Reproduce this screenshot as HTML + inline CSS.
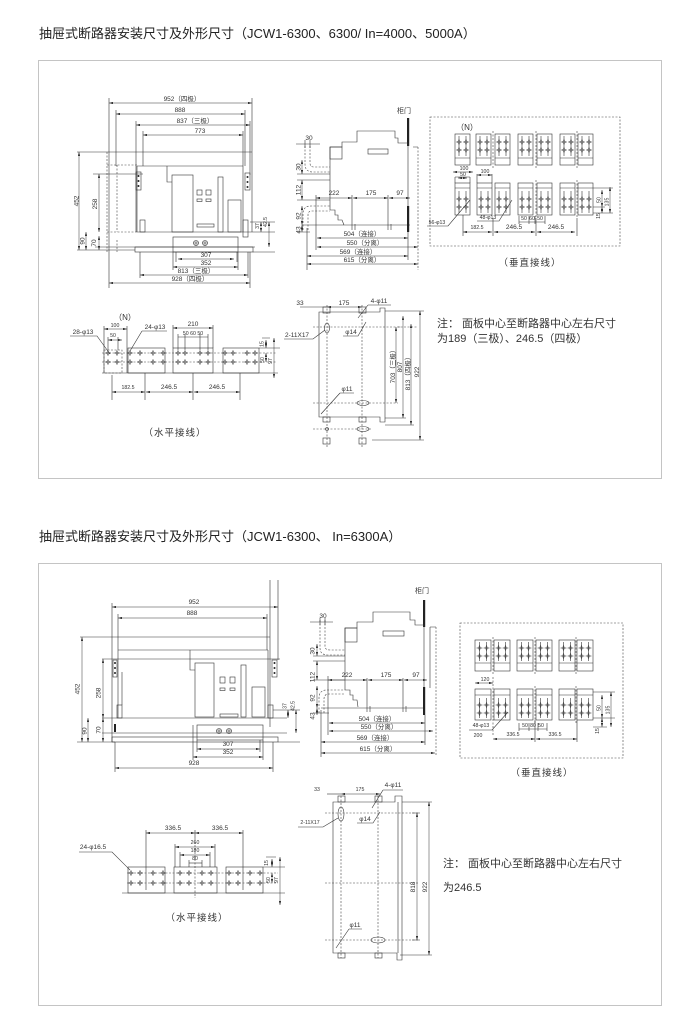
<!DOCTYPE html>
<html><head><meta charset="utf-8"><style>
html,body{margin:0;padding:0;background:#fff}
svg{display:block}
.l{stroke:#333;stroke-width:.6;fill:none}
.k{stroke:#444;stroke-width:.6;fill:none;stroke-dasharray:2 1.5}
.dm{stroke:#333;stroke-width:.5;fill:none;marker-start:url(#ar);marker-end:url(#ar)}
.f{fill:#222}
text{font-family:"Liberation Sans","Noto Sans CJK SC",sans-serif;fill:#333}
.t{font-size:6.5px;text-anchor:middle}
.s{font-size:5.2px;text-anchor:middle}
.c{font-size:9.5px;text-anchor:middle;letter-spacing:1px}
.n{font-size:11px}
.ti{font-size:13px;fill:#222}
.bx{fill:none;stroke:#c4c4c4;stroke-width:1}
</style></head><body>
<svg width="700" height="1021" viewBox="0 0 700 1021" xmlns="http://www.w3.org/2000/svg">
<defs>
<marker id="ar" viewBox="0 0 10 6" refX="10" refY="3" markerWidth="4" markerHeight="2.4" markerUnits="userSpaceOnUse" orient="auto-start-reverse"><path d="M0,0L10,3L0,6z" fill="#333"/></marker>
<g id="h" fill="none" stroke="#333" stroke-width=".5"><path d="M0,-1.8L1.8,0L0,1.8L-1.8,0Z M-3,0H3 M0,-3V3"/></g>
<g id="op" fill="none" stroke="#333" stroke-width=".6"><circle r="2.5"/><path d="M-2.5,0H2.5M0,-2.5V2.5"/></g>
<g id="vt" fill="none" stroke="#333" stroke-width=".6"><rect width="15" height="31"/><path d="M4,2V22M11,2V22M0,24H15"/><use href="#h" x="4" y="8"/><use href="#h" x="11" y="8"/><use href="#h" x="4" y="16"/><use href="#h" x="11" y="16"/></g>
<g id="vb" fill="none" stroke="#333" stroke-width=".6"><rect width="15" height="32"/><path d="M0,5H15M4,8V30M11,8V30"/><use href="#h" x="4" y="16"/><use href="#h" x="11" y="16"/><use href="#h" x="4" y="24"/><use href="#h" x="11" y="24"/></g>
<g id="vt2" fill="none" stroke="#333" stroke-width=".6"><rect width="16" height="31"/><path d="M4.5,2V21M11.5,2V21M0,23H16"/><use href="#h" x="4.5" y="8"/><use href="#h" x="11.5" y="8"/><use href="#h" x="4.5" y="16"/><use href="#h" x="11.5" y="16"/></g>
<g id="vb2" fill="none" stroke="#333" stroke-width=".6"><rect width="16" height="31"/><path d="M0,6H16M4.5,9V29M11.5,9V29"/><use href="#h" x="4.5" y="16"/><use href="#h" x="11.5" y="16"/><use href="#h" x="4.5" y="24"/><use href="#h" x="11.5" y="24"/></g>
</defs>

<!-- ===== Section 1 ===== -->
<text class="ti" x="39" y="38">抽屉式断路器安装尺寸及外形尺寸（JCW1-6300、6300/ In=4000、5000A）</text>
<rect class="bx" x="38.5" y="60.5" width="623" height="418"/>

<!-- F1 front view -->
<path class="l" d="M109,98V288 M252,98V232 M116,110V166 M245,110V166 M136,121V232 M250,121V175 M143,131V166 M243,131V166"/>
<line class="dm" x1="109" y1="103" x2="252" y2="103"/><text class="t" x="182" y="101">952（四极）</text>
<line class="dm" x1="116" y1="114" x2="245" y2="114"/><text class="t" x="180" y="112">888</text>
<line class="dm" x1="136" y1="125" x2="250" y2="125"/><text class="t" x="195" y="123">837（三极）</text>
<line class="dm" x1="143" y1="135" x2="243" y2="135"/><text class="t" x="200" y="133">773</text>
<path class="l" d="M77,152H252 M93,174H143 M77,250H135 M137,232H275 M95,247H255"/>
<path class="k" d="M107,152V252 M107,165H137 M117,165V232 M107,232H137 M117,240V252"/>
<path class="l" d="M137,166H243 M137,166V232 M243,166V232 M167,166V182H172"/>
<rect class="l" x="136" y="172" width="5" height="18"/><circle class="f" cx="138.5" cy="176" r="1"/><circle class="f" cx="138.5" cy="181" r="1"/><circle class="f" cx="138.5" cy="186" r="1"/>
<rect class="l" x="245" y="173" width="5" height="17"/><circle class="f" cx="247.5" cy="177" r="1"/><circle class="f" cx="247.5" cy="182" r="1"/><circle class="f" cx="247.5" cy="187" r="1"/>
<rect class="l" x="172" y="175" width="21" height="57"/>
<rect class="l" x="197" y="190" width="5" height="5"/><rect class="l" x="206" y="190" width="5" height="5"/>
<rect class="l" x="197" y="199" width="5" height="2.5"/><rect class="l" x="206" y="199" width="5" height="2.5"/>
<rect class="l" x="197" y="224" width="17" height="3"/>
<rect class="l" x="218" y="177" width="5" height="55"/>
<rect class="l" x="228" y="200" width="13" height="32"/>
<rect class="l" x="140" y="220" width="5" height="12"/><rect class="l" x="243" y="220" width="5" height="17"/>
<rect class="l" x="173" y="237" width="65" height="15"/>
<use href="#op" x="196" y="243"/><use href="#op" x="205" y="243"/>
<rect class="l" x="135" y="247" width="118" height="5"/>
<path class="l" d="M140,252V278 M248,252V278 M250,252V288 M176,252V262 M237,252V262 M173,252V270 M238,252V270"/>
<line class="dm" x1="79" y1="152" x2="79" y2="250"/><text class="t" transform="translate(78.5,201) rotate(-90)">452</text>
<line class="dm" x1="99" y1="174" x2="99" y2="232"/><text class="t" transform="translate(97,204) rotate(-90)">258</text>
<line class="dm" x1="86" y1="232" x2="86" y2="250"/><text class="t" transform="translate(84.5,241) rotate(-90)">90</text>
<line class="dm" x1="99" y1="236" x2="99" y2="250"/><text class="t" transform="translate(96,243) rotate(-90)">70</text>
<line class="dm" x1="178" y1="259" x2="234" y2="259"/><text class="t" x="206" y="257">307</text>
<line class="dm" x1="173" y1="267" x2="238" y2="267"/><text class="t" x="206" y="265">352</text>
<line class="dm" x1="140" y1="275" x2="248" y2="275"/><text class="t" x="196" y="273">813（三极）</text>
<line class="dm" x1="109" y1="283" x2="250" y2="283"/><text class="t" x="190" y="281">928（四极）</text>
<path class="l" d="M250,222H275 M253,252H275"/>
<line class="dm" x1="261" y1="222" x2="261" y2="232"/><text class="s" transform="translate(259,226) rotate(-90)">37</text>
<line class="dm" x1="269" y1="222" x2="269" y2="247"/><text class="s" transform="translate(267,222) rotate(-90)">42.5</text>

<!-- S1 side view -->
<text class="t" x="404" y="113" style="font-size:7px">柜门</text>
<rect class="f" x="407" y="118" width="2.2" height="28"/>
<path class="l" d="M330,210V147H342V142H357V131H395V138H398V143H408V225"/>
<rect class="l" x="330" y="147" width="12" height="12"/>
<rect class="l" x="368" y="149" width="20" height="5"/>
<path class="l" d="M330,210H335V215H338V220H342L344,225 M302,225H410 M413,147H418"/>
<path class="k" d="M418,147V270"/>
<rect class="f" x="407" y="206" width="2.2" height="26"/>
<path class="k" d="M305,146V164Q305,172 313,172H330 M310,146V163Q310,167 314,167H330 M303,230V214Q303,206 311,206H330 M308,230V215Q308,211 312,211H330"/>
<path class="l" d="M297,174H330 M297,180H330 M297,200H330 M297,232H310 M305,140V148 M310,140V148 M296,144H320"/>
<text class="t" x="309" y="140">30</text>
<line class="dm" x1="302" y1="160" x2="302" y2="174"/><line class="dm" x1="302" y1="180" x2="302" y2="200"/><line class="dm" x1="302" y1="206" x2="302" y2="225"/><line class="dm" x1="302" y1="225" x2="302" y2="232"/>
<text class="t" transform="translate(300.5,167) rotate(-90)">30</text>
<text class="t" transform="translate(300.5,190) rotate(-90)">112</text>
<text class="t" transform="translate(300.5,216) rotate(-90)">92</text>
<text class="t" transform="translate(300.5,230) rotate(-90)">43</text>
<line class="dm" x1="316" y1="198" x2="352" y2="198"/><line class="dm" x1="353" y1="198" x2="388" y2="198"/><line class="dm" x1="389" y1="198" x2="410" y2="198"/>
<text class="t" x="334" y="195">222</text><text class="t" x="371" y="195">175</text><text class="t" x="400" y="195">97</text>
<path class="l" d="M316,195V250 M352,195V230 M355,224V230 M388,195V230 M391,224V230 M307,228V270 M408,232V260"/>
<line class="dm" x1="317" y1="238" x2="408" y2="238"/><text class="t" x="362" y="236">504（连接）</text>
<line class="dm" x1="317" y1="247" x2="418" y2="247"/><text class="t" x="365" y="245">550（分离）</text>
<line class="dm" x1="307" y1="256" x2="408" y2="256"/><text class="t" x="358" y="254">569（连接）</text>
<line class="dm" x1="307" y1="264" x2="418" y2="264"/><text class="t" x="362" y="262">615（分离）</text>

<!-- V1 vertical wiring -->
<rect class="k" x="430" y="117" width="190" height="129"/>
<text class="t" x="467" y="130" style="font-size:8px">（N）</text>
<use href="#vt" x="455" y="134"/><use href="#vt" x="476" y="134"/><use href="#vt" x="495" y="134"/><use href="#vt" x="518" y="134"/><use href="#vt" x="537" y="134"/><use href="#vt" x="560" y="134"/><use href="#vt" x="578" y="134"/>
<path class="k" d="M493,131V168 M536,131V168 M577,131V168 M536,180V218 M577,180V218"/>
<use href="#vb" x="455" y="183"/><use href="#vb" x="477" y="183"/><use href="#vb" x="495" y="183"/><use href="#vb" x="518" y="183"/><use href="#vb" x="537" y="183"/><use href="#vb" x="560" y="183"/><use href="#vb" x="578" y="183"/>
<path class="l" d="M455,177H470 M455,177V183 M470,177V183 M477,174V183 M492,174V183"/>
<line class="dm" x1="453" y1="172" x2="473" y2="172"/><text class="s" x="464" y="170">100</text>
<line class="dm" x1="458" y1="178" x2="467" y2="178"/><text class="s" x="463" y="176">50</text>
<line class="dm" x1="477" y1="175" x2="492" y2="175"/><text class="s" x="485" y="173">100</text>
<text class="s" x="437" y="224">56-φ13</text><path class="l" d="M427,226H448L470,200"/>
<text class="s" x="488" y="219">48-φ13</text><path class="l" d="M477,221H499L512,200"/>
<text class="s" x="524" y="220">50</text><text class="s" x="532" y="220">60</text><text class="s" x="540" y="220">50</text>
<path class="l" d="M519,216V224 M529,216V224 M535,216V224 M545,216V224 M519,222H545"/>
<line class="dm" x1="463" y1="232" x2="492" y2="232"/><line class="dm" x1="494" y1="232" x2="535" y2="232"/><line class="dm" x1="537" y1="232" x2="575" y2="232"/>
<text class="s" x="477" y="229">182.5</text><text class="t" x="514" y="229">246.5</text><text class="t" x="556" y="229">246.5</text>
<path class="l" d="M463,215V236 M493,218V236 M536,218V236 M577,218V236 M593,188H613 M593,213H613 M593,207H605"/>
<line class="dm" x1="602" y1="190" x2="602" y2="207"/><line class="dm" x1="610" y1="187" x2="610" y2="213"/><line class="dm" x1="602" y1="207" x2="602" y2="213"/>
<text class="s" transform="translate(600,216) rotate(-90)">15</text>
<text class="s" transform="translate(600.5,200) rotate(-90)">50</text>
<text class="s" transform="translate(608.5,202) rotate(-90)">135</text>
<text class="c" x="530" y="266">（垂直接线）</text>

<!-- H1 horizontal wiring -->
<text class="t" x="125" y="320" style="font-size:8px">（N）</text>
<line class="dm" x1="104" y1="329" x2="127" y2="329"/><text class="s" x="115" y="327">100</text>
<line class="dm" x1="108" y1="340" x2="122" y2="340"/><text class="s" x="113" y="337">50</text>
<path class="l" d="M104,326V373 M127,326V373 M108,337V350 M118,337V350"/>
<text class="t" x="83" y="334">28-φ13</text><path class="l" d="M70,336H97L110,354"/>
<text class="t" x="155" y="329">24-φ13</text><path class="l" d="M142,331H167 M142,331L130,351"/>
<line class="dm" x1="173" y1="328" x2="213" y2="328"/><text class="t" x="193" y="326">210</text>
<line class="l" x1="178" y1="337" x2="208" y2="337"/><text class="s" x="193" y="335">50 60 50</text>
<path class="l" d="M173,325V348 M213,325V348 M178,334V350 M185,334V350 M200,334V350 M208,334V350"/>
<path class="l" d="M102,373H278"/>
<rect class="l" x="128" y="348" width="37" height="25"/><rect class="l" x="173" y="348" width="40" height="25"/><rect class="l" x="223" y="348" width="36" height="25"/>
<rect class="k" x="104" y="350" width="18" height="23"/>
<path class="k" d="M102,353H276 M102,362H276"/>
<g>
<use href="#h" x="108" y="353"/><use href="#h" x="117" y="353"/><use href="#h" x="130" y="353"/><use href="#h" x="140" y="353"/><use href="#h" x="153" y="353"/><use href="#h" x="163" y="353"/><use href="#h" x="178" y="353"/><use href="#h" x="185" y="353"/><use href="#h" x="200" y="353"/><use href="#h" x="208" y="353"/><use href="#h" x="225" y="353"/><use href="#h" x="233" y="353"/><use href="#h" x="247" y="353"/><use href="#h" x="255" y="353"/>
<use href="#h" x="108" y="362"/><use href="#h" x="117" y="362"/><use href="#h" x="130" y="362"/><use href="#h" x="140" y="362"/><use href="#h" x="153" y="362"/><use href="#h" x="163" y="362"/><use href="#h" x="178" y="362"/><use href="#h" x="185" y="362"/><use href="#h" x="200" y="362"/><use href="#h" x="208" y="362"/><use href="#h" x="225" y="362"/><use href="#h" x="233" y="362"/><use href="#h" x="247" y="362"/><use href="#h" x="255" y="362"/>
</g>
<path class="l" d="M259,348H280 M262,338H270"/>
<line class="dm" x1="266" y1="340" x2="266" y2="348"/><line class="dm" x1="266" y1="353" x2="266" y2="362"/><line class="dm" x1="274" y1="338" x2="274" y2="378"/>
<text class="s" transform="translate(263.5,344) rotate(-90)">15</text>
<text class="s" transform="translate(264,360) rotate(-90)">50</text>
<text class="s" transform="translate(272,361) rotate(-90)">97</text>
<line class="dm" x1="112" y1="392" x2="145" y2="392"/><line class="dm" x1="146" y1="392" x2="193" y2="392"/><line class="dm" x1="194" y1="392" x2="240" y2="392"/>
<text class="s" x="128" y="389">182.5</text><text class="t" x="169" y="389">246.5</text><text class="t" x="217" y="389">246.5</text>
<path class="l" d="M112,375V400 M145,373V400 M193,373V400 M240,373V400"/>
<text class="c" x="175" y="436">（水平接线）</text>

<!-- M1 mounting plate -->
<text class="t" x="300" y="305">33</text><text class="t" x="344" y="305">175</text>
<path class="l" d="M300,307H327"/><line class="dm" x1="327" y1="307" x2="362" y2="307"/>
<text class="t" x="379" y="303">4-φ11</text><path class="l" d="M368,305H391 M368,305L358,318"/>
<path class="l" d="M319,312H380V308H385V422H380V417H319Z"/>
<rect class="l" x="323" y="307" width="7" height="6"/><rect class="l" x="359" y="307" width="7" height="6"/>
<rect class="l" x="323" y="417" width="7" height="5"/><rect class="l" x="359" y="417" width="7" height="5"/>
<rect class="l" x="323" y="438" width="7" height="6"/><rect class="l" x="359" y="438" width="7" height="6"/>
<path class="k" d="M327,305V447 M362,305V447 M313,327H417 M313,403H398 M313,429H372"/>
<ellipse class="l" cx="327" cy="328" rx="2.5" ry="5"/>
<ellipse class="l" cx="363" cy="403" rx="6" ry="2.5"/><ellipse class="l" cx="363" cy="429" rx="6" ry="2.5"/>
<circle class="l" cx="327" cy="429" r="1.5"/>
<text class="t" x="297" y="337">2-11X17</text><path class="l" d="M284,339H313L325,330"/>
<text class="t" x="351" y="334">φ14</text><path class="l" d="M343,336H358L366,322"/>
<text class="t" x="347" y="391">φ11</text><path class="l" d="M340,393H354 M340,393L321,414"/>
<path class="l" d="M385,311H424 M372,440H424 M385,418H406 M385,425H414 M398,327H400"/>
<line class="dm" x1="396" y1="327" x2="396" y2="403"/><text class="t" transform="translate(395,365) rotate(-90)">703（三极）</text>
<line class="dm" x1="403" y1="316" x2="403" y2="418"/><text class="t" transform="translate(402,367) rotate(-90)">807</text>
<line class="dm" x1="411" y1="324" x2="411" y2="425"/><text class="t" transform="translate(410,372) rotate(-90)">813（四极）</text>
<line class="dm" x1="420" y1="311" x2="420" y2="440"/><text class="t" transform="translate(419,372) rotate(-90)">922</text>

<text class="n" x="437" y="327">注： 面板中心至断路器中心左右尺寸</text>
<text class="n" x="437" y="342">为189（三极）、246.5（四极）</text>

<!-- ===== Section 2 ===== -->
<text class="ti" x="39" y="541">抽屉式断路器安装尺寸及外形尺寸（JCW1-6300、 In=6300A）</text>
<rect class="bx" x="38.5" y="563.5" width="623" height="442"/>

<!-- F2 front view -->
<path class="l" d="M112,603V742 M270,580V727 M278,580V660 M118,614V650 M267,614V650"/>
<line class="dm" x1="112" y1="607" x2="278" y2="607"/><text class="t" x="194" y="604">952</text>
<line class="dm" x1="118" y1="618" x2="267" y2="618"/><text class="t" x="192" y="615">888</text>
<path class="l" d="M80,637H270 M118,650H268 M102,659H280 M102,718H287 M102,733H287 M77,742H115"/>
<rect class="l" x="113" y="660" width="4" height="17"/><circle class="f" cx="115" cy="663" r="1"/><circle class="f" cx="115" cy="668" r="1"/><circle class="f" cx="115" cy="673" r="1"/>
<rect class="l" x="272" y="660" width="5" height="17"/><circle class="f" cx="274.5" cy="663" r="1"/><circle class="f" cx="274.5" cy="668" r="1"/><circle class="f" cx="274.5" cy="673" r="1"/>
<path class="l" d="M118,650V718 M268,650V718 M122,672V705 M190,650V670H195"/>
<rect class="l" x="117" y="705" width="5" height="13"/><rect class="l" x="268" y="705" width="5" height="13"/>
<rect class="f" x="114" y="724" width="2" height="8"/>
<rect class="l" x="195" y="663" width="19" height="54"/>
<rect class="l" x="220" y="677" width="5" height="6"/><rect class="l" x="230" y="677" width="5" height="6"/>
<rect class="l" x="220" y="688" width="5" height="2.5"/><rect class="l" x="230" y="688" width="5" height="2.5"/>
<rect class="l" x="241" y="665" width="5" height="52"/>
<rect class="l" x="252" y="687" width="13" height="30"/>
<rect class="l" x="220" y="714" width="18" height="3"/>
<rect class="l" x="197" y="725" width="66" height="15"/>
<use href="#op" x="219" y="731"/><use href="#op" x="229" y="731"/>
<rect class="l" x="112" y="737" width="166" height="5"/>
<line class="dm" x1="82" y1="637" x2="82" y2="742"/><text class="t" transform="translate(79.5,689) rotate(-90)">452</text>
<line class="dm" x1="103" y1="659" x2="103" y2="718"/><text class="t" transform="translate(100.5,693) rotate(-90)">258</text>
<line class="dm" x1="103" y1="718" x2="103" y2="742"/><text class="t" transform="translate(100.5,730) rotate(-90)">70</text>
<line class="dm" x1="88" y1="718" x2="88" y2="742"/><text class="t" transform="translate(86.5,731) rotate(-90)">90</text>
<path class="l" d="M197,740V752 M260,740V752 M193,725V760 M263,740V760 M115,742V772 M273,742V772"/>
<line class="dm" x1="197" y1="749" x2="260" y2="749"/><text class="t" x="228" y="746">307</text>
<line class="dm" x1="193" y1="757" x2="263" y2="757"/><text class="t" x="228" y="754">352</text>
<line class="dm" x1="115" y1="768" x2="273" y2="768"/><text class="t" x="194" y="765">928</text>
<path class="l" d="M273,710H300 M278,742H300"/>
<line class="dm" x1="288" y1="710" x2="288" y2="718"/><line class="dm" x1="296" y1="710" x2="296" y2="733"/>
<text class="s" transform="translate(286.5,706) rotate(-90)">37</text>
<text class="s" transform="translate(294.5,706) rotate(-90)">42.5</text>

<!-- S2 side view -->
<text class="t" x="422" y="593" style="font-size:7px">柜门</text>
<rect class="f" x="423" y="600" width="2.2" height="27"/>
<path class="l" d="M345,690V628H357V622H373V612H410V620H415V625H424V710"/>
<rect class="l" x="345" y="628" width="12" height="14"/>
<rect class="l" x="383" y="631" width="21" height="5"/>
<path class="l" d="M430,627H436 M430,627V688 M345,690H350V695H353V700H357L358,707 M321,708H425"/>
<path class="k" d="M436,627V755"/>
<rect class="f" x="423" y="687" width="2.2" height="28"/>
<path class="k" d="M320,620V648Q320,655 328,655H345 M325,620V646Q325,650 330,650H345 M319,713V698Q319,690 327,690H345 M324,713V699Q324,694 329,694H345"/>
<path class="l" d="M313,656H345 M313,661H345 M313,680H345 M313,713H329 M320,618V625 M325,618V625 M310,622H333"/>
<text class="t" x="323" y="618">30</text>
<line class="dm" x1="317" y1="644" x2="317" y2="656"/><line class="dm" x1="317" y1="661" x2="317" y2="680"/><line class="dm" x1="317" y1="686" x2="317" y2="708"/><line class="dm" x1="317" y1="708" x2="317" y2="715"/>
<text class="t" transform="translate(314.5,651) rotate(-90)">30</text>
<text class="t" transform="translate(314.5,677) rotate(-90)">112</text>
<text class="t" transform="translate(314.5,698) rotate(-90)">92</text>
<text class="t" transform="translate(314.5,716) rotate(-90)">43</text>
<line class="dm" x1="328" y1="680" x2="367" y2="680"/><line class="dm" x1="368" y1="680" x2="403" y2="680"/><line class="dm" x1="404" y1="680" x2="427" y2="680"/>
<text class="t" x="347" y="677">222</text><text class="t" x="386" y="677">175</text><text class="t" x="416" y="677">97</text>
<path class="l" d="M367,678V712 M370,706V712 M403,678V712 M406,706V712 M328,676V735 M321,710V757 M425,715V745"/>
<line class="dm" x1="329" y1="723" x2="425" y2="723"/><text class="t" x="377" y="721">504（连接）</text>
<line class="dm" x1="329" y1="731" x2="433" y2="731"/><text class="t" x="379" y="729">550（分离）</text>
<line class="dm" x1="321" y1="742" x2="425" y2="742"/><text class="t" x="375" y="740">569（连接）</text>
<line class="dm" x1="321" y1="753" x2="435" y2="753"/><text class="t" x="378" y="751">615（分离）</text>

<!-- V2 vertical wiring -->
<rect class="k" x="460" y="623" width="163" height="135"/>
<use href="#vt2" x="475" y="640"/><use href="#vt2" x="494" y="640"/><use href="#vt2" x="517" y="640"/><use href="#vt2" x="536" y="640"/><use href="#vt2" x="559" y="640"/><use href="#vt2" x="577" y="640"/>
<use href="#vb2" x="475" y="689"/><use href="#vb2" x="494" y="689"/><use href="#vb2" x="517" y="689"/><use href="#vb2" x="536" y="689"/><use href="#vb2" x="559" y="689"/><use href="#vb2" x="577" y="689"/>
<path class="k" d="M493,637V674 M535,637V674 M576,637V674 M493,677V735 M535,686V724 M576,686V724"/>
<line class="dm" x1="475" y1="683" x2="493" y2="683"/><text class="s" x="485" y="681">120</text>
<text class="s" x="481" y="727">48-φ13</text><path class="l" d="M469,730H492L508,712"/>
<text class="s" x="525" y="727">50</text><text class="s" x="533" y="727">80</text><text class="s" x="541" y="727">50</text>
<path class="l" d="M519,723V731 M529,723V731 M538,723V731 M547,723V731 M519,729H547"/>
<text class="s" x="478" y="737">200</text>
<line class="dm" x1="493" y1="739" x2="535" y2="739"/><line class="dm" x1="536" y1="739" x2="577" y2="739"/>
<text class="s" x="513" y="736">336.5</text><text class="s" x="555" y="736">336.5</text>
<path class="l" d="M535,720V742 M577,720V742 M593,692H615 M593,718H615 M593,727H607"/>
<line class="dm" x1="602" y1="695" x2="602" y2="718"/><line class="dm" x1="611" y1="692" x2="611" y2="727"/><line class="dm" x1="602" y1="718" x2="602" y2="727"/>
<text class="s" transform="translate(600.5,708) rotate(-90)">50</text>
<text class="s" transform="translate(609.5,710) rotate(-90)">135</text>
<text class="s" transform="translate(599,731) rotate(-90)">15</text>
<text class="c" x="542" y="776">（垂直接线）</text>

<!-- H2 horizontal wiring -->
<line class="dm" x1="146" y1="833" x2="195" y2="833"/><line class="dm" x1="195" y1="833" x2="243" y2="833"/>
<text class="t" x="173" y="830">336.5</text><text class="t" x="220" y="830">336.5</text>
<path class="l" d="M146,830V890 M243,830V890 M195,830V838"/>
<path class="k" d="M195,838V898"/>
<line class="dm" x1="175" y1="847" x2="215" y2="847"/><text class="s" x="195" y="844">260</text>
<line class="dm" x1="180" y1="855" x2="210" y2="855"/><text class="s" x="195" y="852">180</text>
<line class="l" x1="189" y1="863" x2="202" y2="863"/><text class="s" x="195" y="860">80</text>
<path class="l" d="M175,844V867 M215,844V867 M180,852V867 M210,852V867 M189,860V867 M202,860V867"/>
<text class="t" x="93" y="849">24-φ16.5</text><path class="l" d="M79,852H112L130,870"/>
<path class="l" d="M122,893H285"/>
<rect class="l" x="128" y="867" width="37" height="26"/><rect class="l" x="174" y="867" width="43" height="26"/><rect class="l" x="226" y="867" width="37" height="26"/>
<path class="k" d="M127,873H278 M127,883H278"/>
<g>
<use href="#h" x="131" y="873"/><use href="#h" x="140" y="873"/><use href="#h" x="153" y="873"/><use href="#h" x="163" y="873"/><use href="#h" x="180" y="873"/><use href="#h" x="189" y="873"/><use href="#h" x="202" y="873"/><use href="#h" x="211" y="873"/><use href="#h" x="229" y="873"/><use href="#h" x="238" y="873"/><use href="#h" x="250" y="873"/><use href="#h" x="260" y="873"/>
<use href="#h" x="131" y="883"/><use href="#h" x="140" y="883"/><use href="#h" x="153" y="883"/><use href="#h" x="163" y="883"/><use href="#h" x="180" y="883"/><use href="#h" x="189" y="883"/><use href="#h" x="202" y="883"/><use href="#h" x="211" y="883"/><use href="#h" x="229" y="883"/><use href="#h" x="238" y="883"/><use href="#h" x="250" y="883"/><use href="#h" x="260" y="883"/>
</g>
<path class="l" d="M263,867H285 M266,857H276"/>
<line class="dm" x1="272" y1="859" x2="272" y2="867"/><line class="dm" x1="272" y1="873" x2="272" y2="883"/><line class="dm" x1="280" y1="857" x2="280" y2="905"/>
<text class="s" transform="translate(268,863) rotate(-90)">15</text>
<text class="s" transform="translate(270,880) rotate(-90)">50</text>
<text class="s" transform="translate(278,880) rotate(-90)">97</text>
<text class="c" x="197" y="921">（水平接线）</text>

<!-- M2 mounting plate -->
<text class="s" x="317" y="791">33</text><text class="s" x="360" y="791">175</text>
<path class="l" d="M327,794H341"/><line class="dm" x1="341" y1="794" x2="380" y2="794"/>
<text class="t" x="393" y="787">4-φ11</text><path class="l" d="M383,790H403 M383,790L372,808"/>
<path class="l" d="M333,802H395V796H402V960H397V953H333Z M398,802V953"/>
<rect class="l" x="338" y="796" width="7" height="6"/><rect class="l" x="375" y="796" width="7" height="6"/>
<rect class="l" x="338" y="953" width="7" height="5"/><rect class="l" x="375" y="953" width="7" height="5"/>
<path class="k" d="M341,796V958 M378,796V958 M325,813H418 M325,883H418 M325,940H418"/>
<ellipse class="l" cx="341" cy="814" rx="3" ry="7"/>
<ellipse class="l" cx="378" cy="940" rx="7" ry="3"/>
<text class="s" x="310" y="824">2-11X17</text><path class="l" d="M298,827H323L338,818"/>
<text class="t" x="365" y="821">φ14</text><path class="l" d="M357,823H373L380,812"/>
<text class="t" x="355" y="927">φ11</text><path class="l" d="M349,929H362 M349,929L336,948"/>
<path class="l" d="M402,802H432 M400,955H432 M412,813H420 M412,940H420"/>
<line class="dm" x1="417" y1="813" x2="417" y2="940"/><text class="t" transform="translate(415,887) rotate(-90)">818</text>
<line class="dm" x1="429" y1="802" x2="429" y2="955"/><text class="t" transform="translate(427,887) rotate(-90)">922</text>

<text class="n" x="443" y="867">注： 面板中心至断路器中心左右尺寸</text>
<text class="n" x="443" y="891">为246.5</text>
</svg>
</body></html>
